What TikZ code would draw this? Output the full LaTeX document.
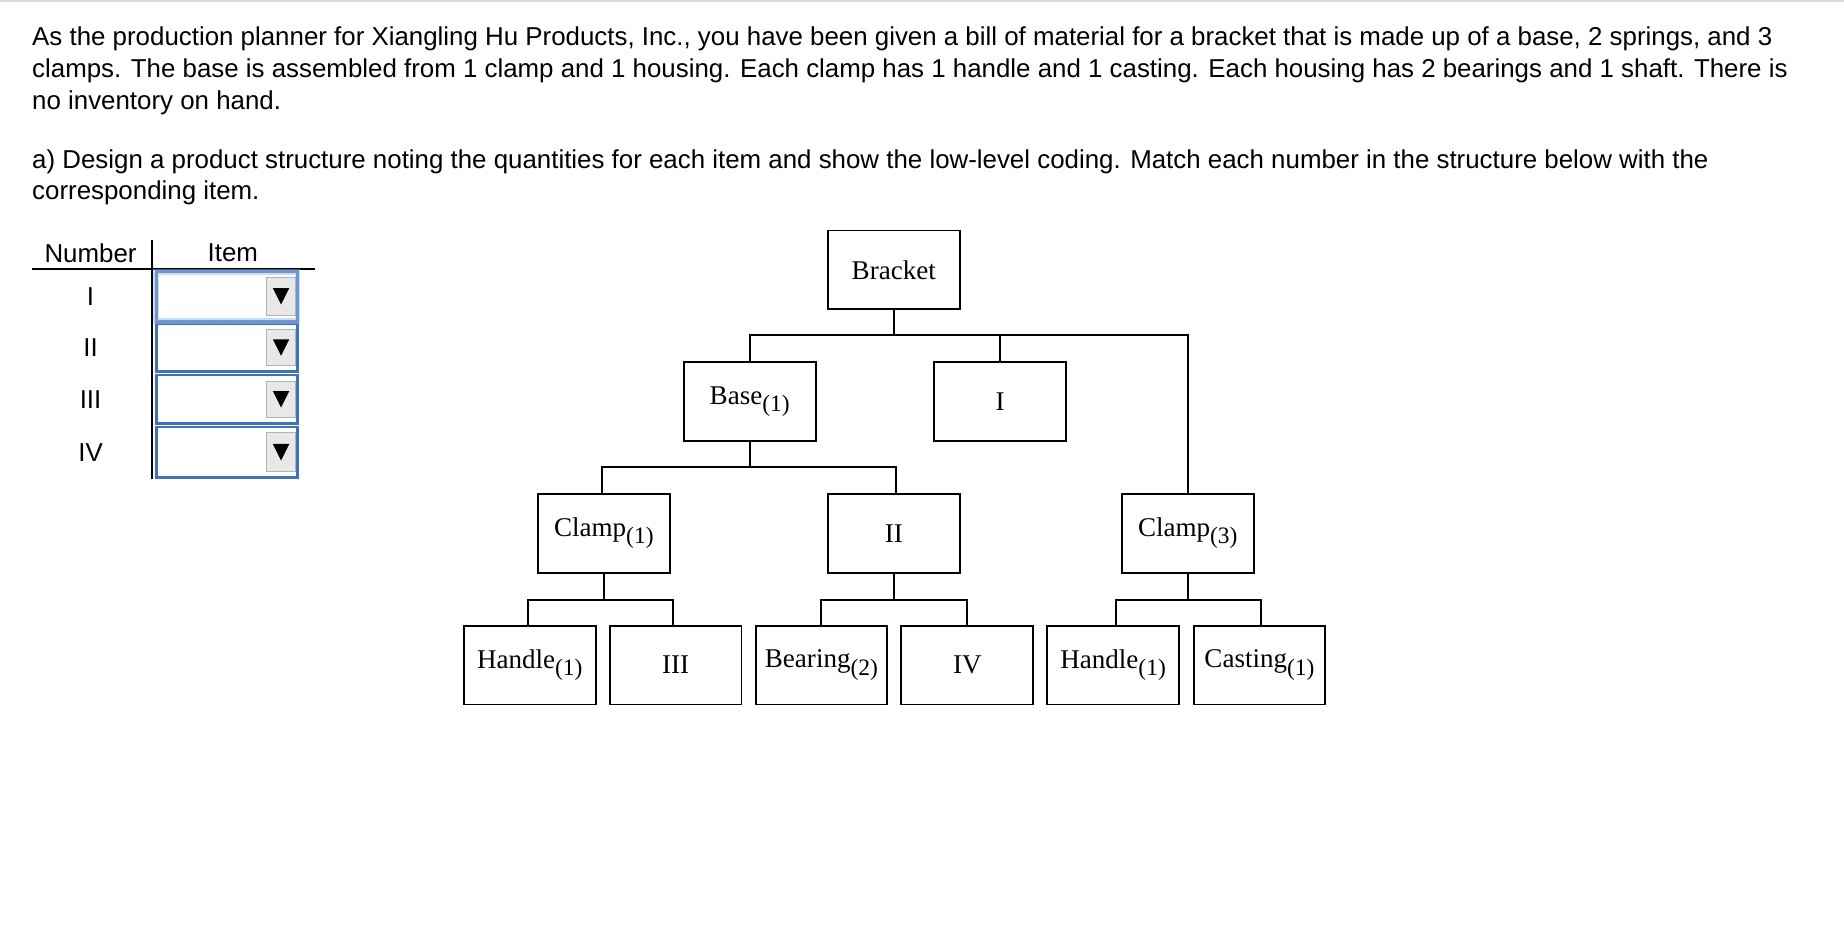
\documentclass[tikz,border=0pt]{standalone}
\usepackage{fontspec}
\setmainfont{Liberation Sans}
\newfontfamily\treefont{Liberation Serif}
\definecolor{ddblue}{HTML}{3A73C8}
\definecolor{btngray}{HTML}{E8E8E8}
\newcommand{\sbs}[1]{\raisebox{-0.6ex}{\fontsize{10pt}{11pt}\selectfont(#1)}}
\begin{document}
\begin{tikzpicture}[x=0.5pt,y=-0.5pt,
  bx/.style={draw,line width=0.8pt,minimum width=56pt,minimum height=33.5pt,inner sep=0pt,font=\treefont\fontsize{11.5pt}{13pt}\selectfont},
  ln/.style={line width=0.8pt},
  para/.style={anchor=base west,inner sep=0pt,font=\fontsize{11pt}{12pt}\selectfont},
  dd/.style={draw=ddblue,line width=1.1pt,minimum width=60pt,minimum height=20.5pt,inner sep=0pt},
  hd/.style={font=\fontsize{11pt}{12pt}\selectfont,inner sep=0pt}]
\useasboundingbox (0,0) rectangle (1568,805);
\fill[white] (0,0) rectangle (1568,805);
\draw[gray!30,line width=1pt] (0,0.5) -- (1568,0.5);
% paragraphs
\node[para] (p1) at (27,39) {As the production planner for Xiangling Hu Products, Inc., you have been given a bill of material for a bracket that is made up of a base, 2 springs, and 3};
\node[para] (p2) at (27,66) {clamps. The base is assembled from 1 clamp and 1 housing. Each clamp has 1 handle and 1 casting. Each housing has 2 bearings and 1 shaft. There is};
\node[para] (p3) at (27,93) {no inventory on hand.};
\node[para] (p4) at (27,143) {a) Design a product structure noting the quantities for each item and show the low-level coding. Match each number in the structure below with the};
\node[para] (p5) at (27,170) {corresponding item.};
% table
\node[hd] (hn) at (77,215) {Number};
\node[hd] (hi) at (198,215) {Item};
\draw[ln] (27,229) -- (268,229);
\draw[ln] (129,204) -- (129,407);
\foreach \r/\ya/\yb [count=\i] in {I/231/273,II/275/316,III/319/360,IV/363/406}{
  \node[hd] (r\i) at (77,{(\ya+\yb)/2}) {\r};
  \node[dd,minimum height={(\yb-\ya)*0.5pt}] (d\i) at (193,{(\ya+\yb)/2}) {};
  \node[draw=gray!60,fill=btngray,minimum width=12pt,minimum height={(\yb-\ya)*0.5pt-5pt},inner sep=0pt] (b\i) at (239,{(\ya+\yb)/2}) {};
  \fill (232,{(\ya+\yb)/2-7}) -- (246,{(\ya+\yb)/2-7}) -- (239,{(\ya+\yb)/2+7}) -- cycle;
}
\draw[ddblue!50,line width=2.5pt,opacity=0.5] (133,231) rectangle (253,273);
% tree
\node[bx] (br) at (760,229.5) {Bracket};
\node[bx] (ba) at (637.5,341.5) {Base\sbs{1}};
\node[bx] (i) at (850.5,341.5) {I};
\node[bx] (c1) at (513.5,453.5) {Clamp\sbs{1}};
\node[bx] (ii) at (760,453.5) {II};
\node[bx] (c3) at (1010,453.5) {Clamp\sbs{3}};
\node[bx] (h1) at (450.5,565.5) {Handle\sbs{1}};
\node[bx] (iii) at (574.5,565.5) {III};
\node[bx] (be) at (698.5,565.5) {Bearing\sbs{2}};
\node[bx] (iv) at (822.5,565.5) {IV};
\node[bx] (h2) at (946.5,565.5) {Handle\sbs{1}};
\node[bx] (ca) at (1071,565.5) {Casting\sbs{1}};
\draw[ln] (br.south) -- (760,285);
\draw[ln] (ba.north) -- (637.5,285) -- (1010,285) -- (c3.north);
\draw[ln] (850.5,285) -- (i.north);
\draw[ln] (ba.south) -- (637.5,397);
\draw[ln] (512,420) -- (512,397) -- (762,397) -- (762,420);
\draw[ln] (c1.south) -- (513.5,510);
\draw[ln] (449,532) -- (449,510) -- (572,510) -- (572,532);
\draw[ln] (ii.south) -- (760,510);
\draw[ln] (698,532) -- (698,510) -- (822,510) -- (822,532);
\draw[ln] (c3.south) -- (1010,510);
\draw[ln] (949,532) -- (949,510) -- (1072,510) -- (1072,532);
\end{tikzpicture}
\end{document}
